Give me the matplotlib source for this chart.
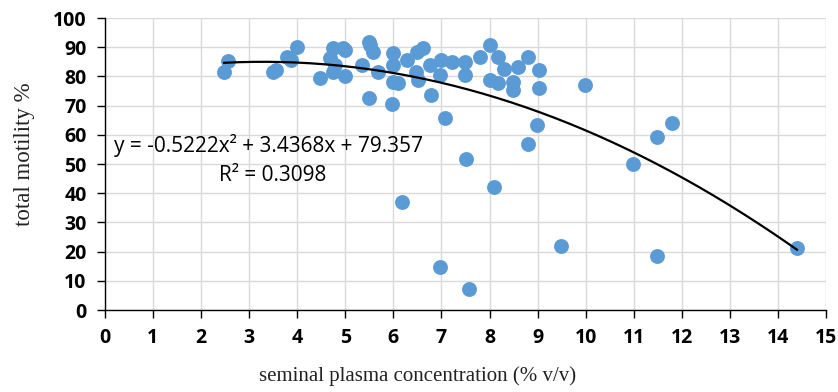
import numpy as np
import matplotlib.pyplot as plt

# seminal plasma concentration (% v/v) vs total motility (%)
conc = [2.48, 2.57, 3.5, 3.57, 3.78, 3.88, 3.99,
        4.47, 4.68, 4.75, 4.75, 4.78, 4.95, 5.0, 5.0,
        5.34, 5.5, 5.51, 5.58, 5.5, 5.68,
        6.0, 6.0, 6.0, 6.1, 5.98, 6.18, 6.28, 6.49, 6.61, 6.48, 6.51,
        6.76, 6.79, 7.0, 6.97, 6.98, 7.07, 7.21, 7.49, 7.49, 7.5, 7.58,
        7.8, 8.0, 8.0, 8.09, 8.18, 8.29, 8.18, 8.48, 8.48, 8.6, 8.8, 8.79,
        9.03, 9.03, 8.98, 9.49, 9.98, 10.99, 11.49, 11.49, 11.79, 14.39]
motility = [81.4, 85.3, 81.6, 82.2, 86.8, 85.6, 90.2,
            79.3, 86.2, 89.6, 81.6, 84.0, 89.6, 80.0, 89.0,
            84.0, 91.9, 90.7, 88.5, 72.5, 81.6,
            87.9, 84.0, 78.2, 77.6, 70.7, 37.0, 85.6, 88.5, 89.6, 81.6, 78.8,
            84.0, 73.8, 85.6, 80.5, 14.7, 65.6, 85.0, 85.0, 80.5, 51.6, 7.1,
            86.8, 90.8, 78.8, 42.2, 86.8, 82.7, 77.6, 78.2, 75.3, 83.3, 86.8, 56.9,
            82.2, 75.9, 63.4, 22.0, 77.0, 49.9, 59.4, 18.5, 63.9, 21.3]

# trendline coefficients as printed on the chart
coef = [-0.5222, 3.4368, 79.357]
r2 = 0.3098

fig = plt.figure(figsize=(8.38, 3.92), dpi=100)
ax = fig.add_axes([0.125, 0.209, 0.861, 0.745])

ax.scatter(conc, motility, s=115, color='#5B9BD5', zorder=3, linewidths=0)

xs = np.linspace(min(conc), max(conc), 200)
ax.plot(xs, np.polyval(coef, xs), color='black', lw=1.6, zorder=4)

ax.set_xlim(0, 15)
ax.set_ylim(0, 100)
ax.set_xticks(range(0, 16))
ax.set_yticks(range(0, 101, 10))
ax.grid(True, color='#d9d9d9', lw=1.0)
ax.set_axisbelow(True)
for s in ['top', 'right']:
    ax.spines[s].set_visible(False)
for s in ['left', 'bottom']:
    ax.spines[s].set_color('black')
    ax.spines[s].set_linewidth(1.0)
ax.tick_params(direction='out', length=6, width=1.0, color='black', pad=7,
               labelsize=14)
for lab in ax.get_xticklabels() + ax.get_yticklabels():
    lab.set_fontfamily('Open Sans')
    lab.set_fontweight('bold')

ax.set_xlabel('seminal plasma concentration (% v/v)', family='Liberation Serif',
              fontsize=15, color='#222222', va='center')
ax.set_ylabel('total motility %', family='Liberation Serif',
              fontsize=16.5, color='#222222', va='center')
ax.xaxis.set_label_coords(0.434, -0.226)
ax.yaxis.set_label_coords(-0.111, 0.534)

ax.text(0.2, 56.5, 'y = -0.5222x² + 3.4368x + 79.357', family='Open Sans',
        fontsize=15, va='center', ha='left')
ax.text(2.37, 46.2, 'R² = %.4f' % r2, family='Open Sans',
        fontsize=15, va='center', ha='left')

fig.savefig('out.png', dpi=100)
